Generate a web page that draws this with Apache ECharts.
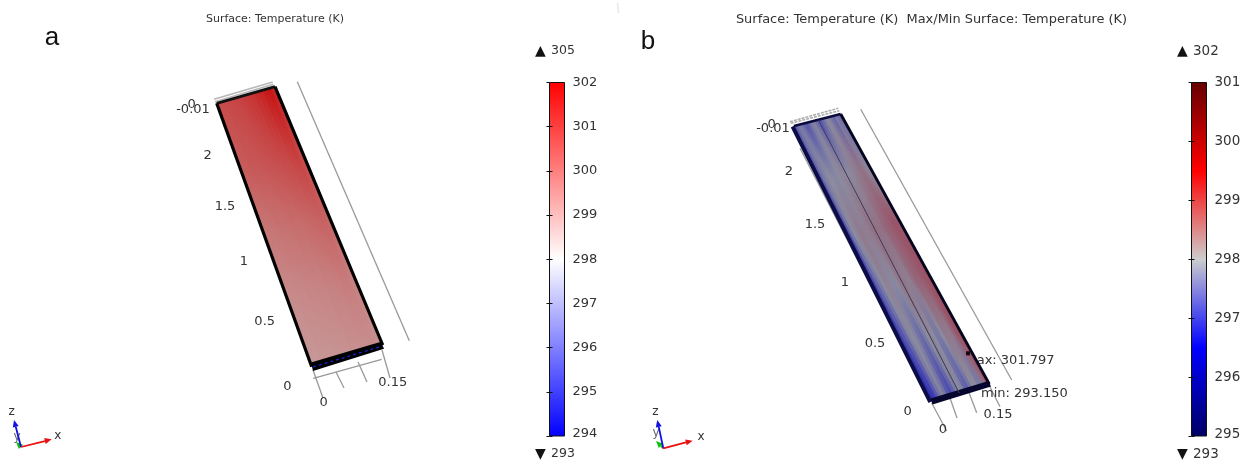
<!DOCTYPE html>
<html>
<head>
<meta charset="utf-8">
<style>html,body{margin:0;padding:0;background:#fff}#c{width:1250px;height:463px}</style>
<script src="https://cdn.jsdelivr.net/npm/echarts@6/dist/echarts.min.js"></script>
</head>
<body>
<div id="c"></div>
<script>
// ---------- data ----------
const titleA = 'Surface: Temperature (K)';
const titleB = 'Surface: Temperature (K)  Max/Min Surface: Temperature (K)';
const colorTicksA = [294, 295, 296, 297, 298, 299, 300, 301, 302];
const colorTicksB = [295, 296, 297, 298, 299, 300, 301];
const rangeMarksA = ['305', '293'];
const rangeMarksB = ['302', '293'];
const axisLabelsA = ['-0.01', '0', '2', '1.5', '1', '0.5', '0', '0', '0.15'];
const axisLabelsB = ['-0.01', '0', '2', '1.5', '1', '0.5', '0', '0', '0.15'];
const extremeLabels = ['max: 301.797', 'min: 293.150'];
const rowPositions = [0, 0.25, 0.5, 0.75, 1];
const rowPositionsB = [0, 0.2, 0.4, 0.6, 0.8, 1];
// surface temperature (K), bottom row first, columns left to right across the plate
const fieldA = [
  [298.95,298.95,299,299,299,299.05,299.05,299.05,299.1,299.1,299.15,299.15,299.15,299.1],
  [299.2,299.2,299.25,299.25,299.3,299.3,299.35,299.35,299.4,299.4,299.45,299.5,299.5,299.4],
  [299.6,299.6,299.65,299.7,299.7,299.75,299.8,299.8,299.85,299.9,299.95,300,300.05,300],
  [300.15,300.2,300.25,300.25,300.3,300.35,300.4,300.45,300.5,300.55,300.6,300.7,300.75,300.6],
  [300.5,300.5,300.55,300.6,300.65,300.7,300.8,300.9,301,301.15,301.3,301.5,301.6,301.4]
];
const fieldB = [
  [297.0,297.1,297.4,297.7,297.9,297.7,297.4,297.3,297.5,297.8,298.0,297.9,297.6,297.5,297.7,298.0,298.0,297.8,297.8,298.3,298.6],
  [297.2,297.4,297.6,297.9,298.0,297.9,297.7,297.6,297.8,298.0,298.1,298.0,297.8,297.8,298.0,298.2,298.2,298.2,298.4,298.6,298.7],
  [297.3,297.6,297.8,298.0,298.1,298.1,297.95,297.95,298.05,298.2,298.25,298.2,298.15,298.15,298.3,298.4,298.45,298.5,298.55,298.6,298.7],
  [297.4,297.8,298.0,298.1,298.2,298.2,298.15,298.15,298.2,298.3,298.3,298.3,298.3,298.3,298.4,298.45,298.5,298.55,298.6,298.6,298.6],
  [297.5,297.8,297.9,298.0,298.0,297.95,297.95,298.0,298.05,298.1,298.05,298.05,298.05,298.1,298.15,298.2,298.25,298.3,298.2,298.1,298.0],
  [297.5,297.7,297.8,297.7,297.5,297.4,297.6,297.8,297.9,297.7,297.5,297.4,297.6,297.8,298.0,297.9,297.7,297.6,297.8,297.7,297.5]
];

// ---------- colour tables ----------
const mapA = [[294,[0,0,255]],[298,[255,255,255]],[302,[255,0,0]]];
const mapB = [[295,[0,0,100]],[296.5,[0,0,255]],[298,[205,205,205]],[299.5,[255,0,0]],[301,[100,0,0]]];
function sample(map, t, k, tint) {
  let c = map[map.length - 1][1];
  if (t <= map[0][0]) c = map[0][1];
  else for (let i = 1; i < map.length; i++) {
    if (t <= map[i][0]) {
      const f = (t - map[i-1][0]) / (map[i][0] - map[i-1][0]);
      c = map[i-1][1].map((a, j) => a + (map[i][1][j] - a) * f);
      break;
    }
  }
  const add = tint || [0,0,0];
  return 'rgb(' + c.map((a, j) => Math.round(a * k + add[j])).join(',') + ')';
}

// ---------- scene layout (view projection of the two plates) ----------
const FONT = '"DejaVu Sans"';
const TXT = '#333';
const SCENE = {
  a: {
    bl:[311.7,366.7], br:[382.7,345], tl:[216.7,103.3], tr:[275,86.7], shade:0.78, tint:[0,0,0], map:mapA, field:fieldA, rows:rowPositions,
    gray:[[[297.3,81.7],[409.3,340.7]],[[313.3,378.3],[381.7,359.3]],[[313,370],[323,398]],[[336,372],[344,388]],[[358,362],[367,382]],[[382,350],[390,378]]],
    top:[[[214,99.3],[272.7,82]],[[215,101.7],[273.3,84.3]]], topStyle:['#b8b8b8',1.6,null],
    labels:[[193,110],[191.7,105],[207.7,156],[225,206.7],[244,261.7],[264.7,321.7],[287.3,386.7],[323.7,403],[392.7,382.7]],
    texts:axisLabelsA
  },
  b: {
    bl:[931.7,401.7], br:[989.3,384], tl:[794,126], tr:[840.7,114], shade:0.68, tint:[0,0,20], map:mapB, field:fieldB, rows:rowPositionsB,
    gray:[[[860.7,109.3],[1011.7,380]],[[800,148.3],[931,402]],[[931.7,403],[946.7,431]],[[950,398],[957,418]],[[968,390],[976.7,412.7]],[[989,385],[1000,406.7]]],
    top:[[[790,121.7],[838.3,108.3]],[[790.7,123.3],[839.3,110.7]]], topStyle:['#aaa',1.5,[3,1]],
    labels:[[773,129],[771.7,125],[789,171.7],[815,225],[845,282.7],[875,344],[907.7,411.7],[943,430],[998,415]],
    texts:axisLabelsB
  }
};
function P(s, u, v) {
  const b = [s.bl[0]+(s.br[0]-s.bl[0])*u, s.bl[1]+(s.br[1]-s.bl[1])*u];
  const t = [s.tl[0]+(s.tr[0]-s.tl[0])*u, s.tl[1]+(s.tr[1]-s.tl[1])*u];
  return [b[0]+(t[0]-b[0])*v, b[1]+(t[1]-b[1])*v];
}
const cust = (name, z, data, renderItem) => ({
  type:'custom', name, z, data, renderItem, coordinateSystem:'cartesian2d',
  xAxisIndex:0, yAxisIndex:0, clip:false, silent:true, animation:false
});
const text = (api, str, p, o) => {
  const c = api.coord(p);
  return {type:'text', style:Object.assign({text:str, x:c[0], y:c[1], fill:TXT, font:'13px '+FONT, align:'center', verticalAlign:'middle'}, o||{})};
};
const line = (api, a, b, stroke, w, dash) => {
  const p = api.coord(a), q = api.coord(b);
  return {type:'line', shape:{x1:p[0],y1:p[1],x2:q[0],y2:q[1]}, style:{stroke, lineWidth:w, lineDash:dash||null}};
};

function fieldSeries(key) {
  const s = SCENE[key], n = s.field[0].length;
  return cust('field-'+key, 3, s.field[0].map((_, i) => [i]), (params, api) => {
    const i = api.value(0);
    const u0 = i / n, u1 = Math.min((i + 1.25) / n, 1), um = (i + .5) / n;
    const pts = [P(s,u0,0), P(s,u1,0), P(s,u1,1), P(s,u0,1)].map(p => api.coord(p));
    const g0 = api.coord(P(s,um,0)), g1 = api.coord(P(s,um,1));
    return {type:'polygon', shape:{points:pts}, style:{fill:{
      type:'linear', global:true, x:g0[0], y:g0[1], x2:g1[0], y2:g1[1],
      colorStops:s.rows.map((r, j) => ({offset:r, color:sample(s.map, s.field[j][i], s.shade, s.tint)}))
    }}};
  });
}
function guideSeries(key) {
  const s = SCENE[key];
  return cust('guides-'+key, 2, [[0]], (params, api) => ({type:'group', children:
    s.gray.map(l => line(api, l[0], l[1], '#999', 1.3))
     .concat(s.top.map(l => line(api, l[0], l[1], s.topStyle[0], s.topStyle[1], s.topStyle[2])))
  }));
}
function frameSeries(key) {
  const s = SCENE[key];
  return cust('frame-'+key, 4, [[0]], (params, api) => {
    const kids = [];
    if (key === 'a') {
      const st = [[311,362.5],[381,341.8],[384,348.8],[313,371]].map(p => api.coord(p));
      kids.push({type:'polygon', shape:{points:st}, style:{fill:'#000'}});
      kids.push(line(api,[313,367],[382.5,346],'#2020e0',1.2,[3,3]));
      kids.push(line(api,s.tl,s.tr,'#111',2.8), line(api,s.tr,s.br,'#000',3.2), line(api,s.tl,s.bl,'#000',3.2));
    } else {
      const st = [[930.5,398.5],[988.5,381],[991,386.5],[932.5,404.5]].map(p => api.coord(p));
      kids.push({type:'polygon', shape:{points:st}, style:{fill:'#05052e'}});
      kids.push(line(api,s.tl,s.tr,'#0a0a3c',2.6), line(api,s.tr,s.br,'#05051e',2.8), line(api,[792.6,126.5],[930.3,402],'#0c0c48',4));
      kids.push(line(api,P(s,.52,1),P(s,.48,0),'#3a3a55',1));
      const m = api.coord([968,353.3]);
      kids.push({type:'rect', shape:{x:m[0]-2,y:m[1]-2,width:4,height:4}, style:{fill:'#1a0510'}});
    }
    return {type:'group', children:kids};
  });
}
function labelSeries(key) {
  const s = SCENE[key];
  return cust('labels-'+key, 5, s.texts.map((_, i) => [i]), (params, api) => {
    const i = api.value(0);
    return text(api, s.texts[i], s.labels[i]);
  });
}
function triad(o, x, z, y, lz, lx, ly) {
  return cust('triad', 5, [[0]], (params, api) => {
    const arrow = (end, col) => {
      const a = api.coord(o), b = api.coord(end);
      const d = Math.atan2(b[1]-a[1], b[0]-a[0]), L = 7, W = 3;
      const base = [b[0]-L*Math.cos(d), b[1]-L*Math.sin(d)];
      return [
        {type:'line', shape:{x1:a[0],y1:a[1],x2:base[0],y2:base[1]}, style:{stroke:col,lineWidth:1.8}},
        {type:'polygon', shape:{points:[b,[base[0]-W*Math.sin(d),base[1]+W*Math.cos(d)],[base[0]+W*Math.sin(d),base[1]-W*Math.cos(d)]]}, style:{fill:col}}
      ];
    };
    return {type:'group', children:[
      text(api,'y',ly,{fill:'#666',font:'12px '+FONT}),
      ...arrow(y,'#10c010'), ...arrow(z,'#1010e0'), ...arrow(x,'#e81010'),
      text(api,'z',lz,{font:'12px '+FONT}), text(api,'x',lx,{font:'12px '+FONT})
    ]};
  });
}
function barFill(gridX, gridY, lo, hi, map) {
  return {
    type:'custom', z:2, coordinateSystem:'cartesian2d', xAxisIndex:gridX, yAxisIndex:gridY, clip:false, silent:true, animation:false,
    data:[[0, lo, hi]],
    renderItem:(params, api) => {
      const a = api.coord([0, api.value(2)]), b = api.coord([1, api.value(1)]);
      const span = hi - lo;
      return {type:'rect', shape:{x:a[0],y:a[1],width:b[0]-a[0],height:b[1]-a[1]}, style:{
        stroke:'#111', lineWidth:1,
        fill:{type:'linear', x:0, y:1, x2:0, y2:0, colorStops:map.map(m => ({offset:(m[0]-lo)/span, color:sample(map,m[0],1)}))}
      }};
    }
  };
}
const sceneAxisX = {type:'value', min:0, max:1250, show:false, gridIndex:0};
const sceneAxisY = {type:'value', min:0, max:463, inverse:true, show:false, gridIndex:0};
const tickAxis = (grid, lo, hi, side, withLabels, size) => ({
  type:'value', gridIndex:grid, min:lo, max:hi, interval:1, position:side, z:5,
  axisLine:{show:false}, splitLine:{show:false},
  axisTick:{show:true, inside:true, length:3, lineStyle:{color:'#111',width:1}},
  axisLabel:{show:withLabels, margin:8, color:TXT, fontFamily:FONT, fontSize:size, align:'left',
    formatter:v => v === lo ? '{low|'+v+'}' : String(v),
    rich:{low:{padding:[0,0,4,0], color:TXT, fontFamily:FONT, fontSize:size}}}
});
const unitAxis = grid => ({type:'value', gridIndex:grid, min:0, max:1, show:false});

const option = {
  animation:false, backgroundColor:'#fff',
  title:[
    {text:titleA, left:270, top:9, textAlign:'center', textStyle:{fontFamily:FONT,fontSize:11,fontWeight:'normal',color:TXT}},
    {text:titleB, left:926.5, top:8, textAlign:'center', textStyle:{fontFamily:FONT,fontSize:12.95,fontWeight:'normal',color:TXT}}
  ],
  grid:[
    {left:0, top:0, width:1250, height:463},
    {left:549.5, top:82.5, width:15, height:353.5},
    {left:1191.5, top:82.5, width:15, height:353.5}
  ],
  xAxis:[sceneAxisX, unitAxis(1), unitAxis(2)],
  yAxis:[sceneAxisY,
    tickAxis(1, colorTicksA[0], colorTicksA[colorTicksA.length-1], 'right', true, 13),
    tickAxis(1, colorTicksA[0], colorTicksA[colorTicksA.length-1], 'left', false, 13),
    tickAxis(2, colorTicksB[0], colorTicksB[colorTicksB.length-1], 'right', true, 13.5),
    tickAxis(2, colorTicksB[0], colorTicksB[colorTicksB.length-1], 'left', false, 13.5)
  ],
  series:[
    barFill(1, 1, colorTicksA[0], colorTicksA[colorTicksA.length-1], mapA),
    barFill(2, 3, colorTicksB[0], colorTicksB[colorTicksB.length-1], mapB),
    guideSeries('a'), guideSeries('b'),
    cust('extremes', 2, extremeLabels.map((_, i) => [i]), (params, api) => {
      const i = api.value(0);
      return text(api, extremeLabels[i], i === 0 ? [964,360.7] : [981,393.5], {align:'left'});
    }),
    fieldSeries('a'), fieldSeries('b'), frameSeries('a'), frameSeries('b'),
    labelSeries('a'), labelSeries('b'),
    cust('panels', 5, [0,1].map(i => [i]), (params, api) => {
      const i = api.value(0);
      return text(api, ['a','b'][i], i === 0 ? [52,38] : [648,42], {fill:'#111', font:'26px "Liberation Sans"'});
    }),
    cust('marks', 5, [0,1,2,3].map(i => [i]), (params, api) => {
      const i = api.value(0);
      const up = i % 2 === 0, x = i < 2 ? 535 : 1177, y = up ? 51 : 454;
      const val = (i < 2 ? rangeMarksA : rangeMarksB)[i % 2];
      return {type:'group', children:[
        text(api, up ? '\u25B2' : '\u25BC', [x+5.5,y], {fill:'#111', font:'14px '+FONT}),
        text(api, val, [x+16,y], {align:'left', font:(i < 2 ? '12.5px ' : '13.5px ')+FONT})
      ]};
    }),
    triad([21,447],[51.7,439.3],[14,420],[16,442],[11.7,412.3],[57.7,436],[17,437]),
    triad([663.3,448.3],[692.7,440.7],[657.3,420],[656,441],[655.3,412.3],[701,436.7],[656,433]),
    cust('speck', 1, [[0]], (params, api) => line(api,[617.5,3],[618.5,13],'#e8e8e8',1.5))
  ]
};
const chart = echarts.init(document.getElementById('c'), null, {renderer:'canvas'});
chart.setOption(option);
</script>
</body>
</html>
